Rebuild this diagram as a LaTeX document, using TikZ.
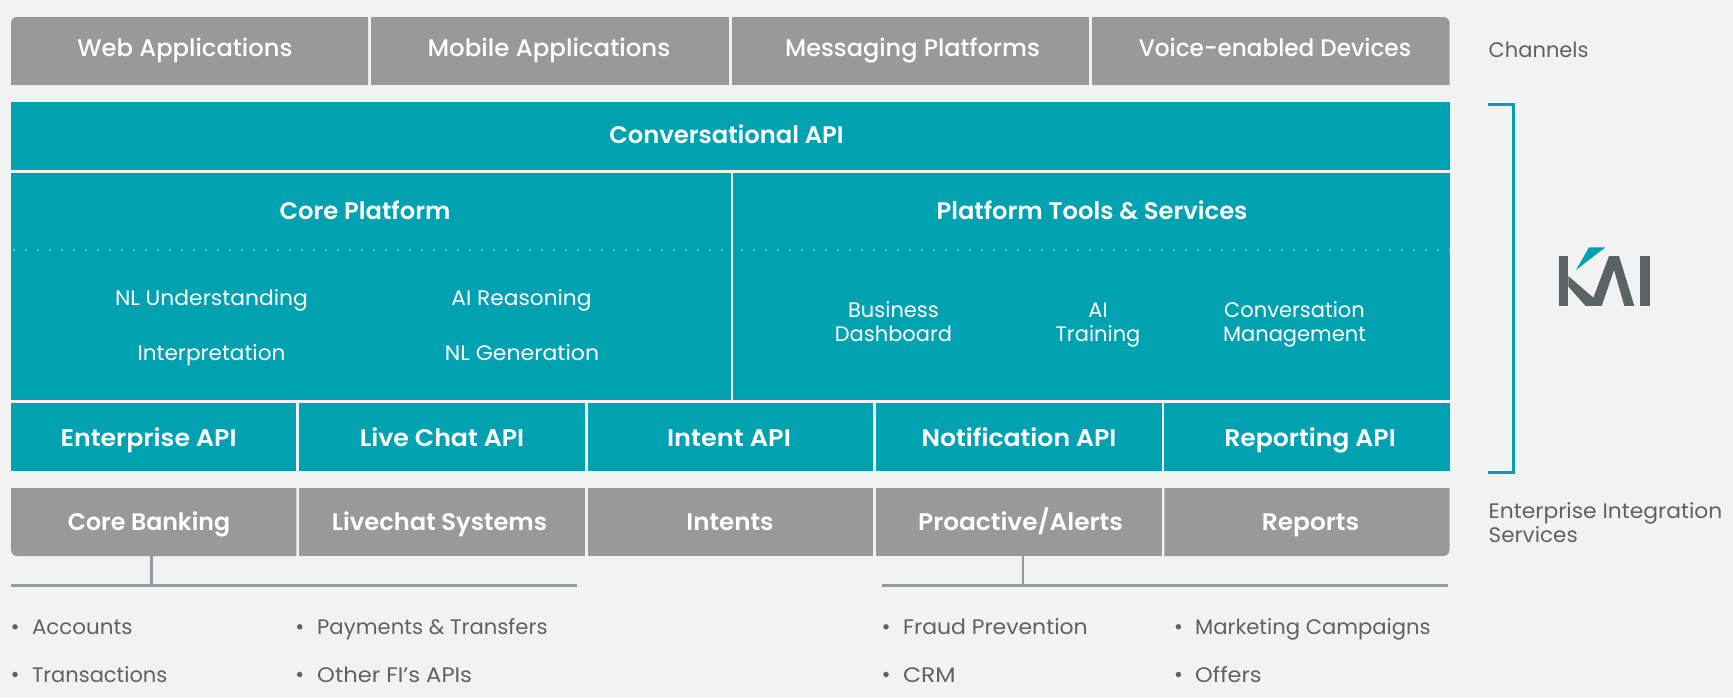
\documentclass[tikz,border=0pt]{standalone}
\usepackage{graphicx}
\usepackage{fontspec}
\setmainfont{Poppins}
\newfontfamily\semi{Poppins SemiBold}
\newfontfamily\medi{Poppins Medium}
\definecolor{bgc}{HTML}{F2F2F2}
\definecolor{tealc}{HTML}{00A2B2}
\definecolor{grayc}{HTML}{999999}
\definecolor{inkc}{HTML}{5C6366}
\definecolor{barc}{HTML}{919C9F}
\definecolor{dotc}{HTML}{5DC3CE}
\newcommand{\sx}[2]{\scalebox{#1}[1]{#2}}
\newcommand{\upstrut}{\rule{0pt}{16pt}}
\newcommand{\dnstrut}{\rule[-6pt]{0pt}{6pt}}
\tikzset{
  capbox/.style={inner sep=0pt,text height=#1,text depth=0pt},
  chan/.style={capbox=17pt,text=white,font=\medi\fontsize{24}{28}\selectfont},
  title/.style={capbox=17pt,text=white,font=\semi\fontsize{24}{28}\selectfont},
  item/.style={capbox=15pt,text=white,font=\fontsize{21}{24}\selectfont},
  twoline/.style={inner sep=0pt,text=white,align=center,font=\fontsize{21}{24}\selectfont},
  side/.style={capbox=15pt,anchor=west,text=inkc,font=\fontsize{21}{24}\selectfont},
  listitem/.style={capbox=15pt,anchor=west,text=inkc,font=\fontsize{21}{24}\selectfont},
  dotmark/.style={circle,fill=inkc,inner sep=0pt,minimum size=5.5pt},
  bar/.style={draw=barc,line width=3pt},
  stem/.style={draw=barc,line width=2.5pt},
  dotline/.style={draw=dotc,line width=2.4pt,dash pattern=on 2.4pt off 9.6pt},
}
\begin{document}
\begin{tikzpicture}[x=1pt,y=-1pt]
\useasboundingbox (0,0) rectangle (1733,697);
\fill[bgc] (0,0) rectangle (1733,697);
% channels
\fill[grayc] (11,85) [rounded corners=6pt] -- (11,17) [sharp corners] -- (368,17) -- (368,85) -- cycle;
\fill[grayc] (371,17) rectangle (729,85);
\fill[grayc] (732,17) rectangle (1089.3,85);
\fill[grayc] (1092,85) -- (1092,17) [rounded corners=6pt] -- (1449.5,17) [sharp corners] -- (1449.5,85) -- cycle;
\node[chan] (web) at (185,48) {\sx{1.01}{Web Applications}};
\node[chan] (mob) at (549,48) {\sx{1.02}{Mobile Applications}};
\node[chan] (msg) at (912.5,48) {Messaging Platforms};
\node[chan] (voi) at (1275,48) {\sx{0.965}{Voice-enabled Devices}};
% teal stack
\fill[tealc] (11,102) rectangle (1449.5,170);
\fill[tealc] (11,173) rectangle (730.5,400);
\fill[tealc] (733.3,173) rectangle (1449.5,400);
\foreach \a/\b in {11/296.3,299/584.7,587.5/873,875.8/1161.5,1164.3/1449.5}
  \fill[tealc] (\a,403) rectangle (\b,471);
\node[title] (conv) at (726.5,135) {\sx{1.01}{Conversational API}};
\node[title] (core) at (365,210.5) {\sx{1.01}{Core Platform}};
\node[title] (tools) at (1092,210.5) {\sx{1.01}{Platform Tools \& Services}};
\coordinate (dla) at (13,250);
\coordinate (dlb) at (728,250);
\coordinate (dra) at (740.5,250);
\coordinate (drb) at (1449,250);
\draw[dotline] (dla) -- (dlb);
\draw[dotline] (dra) -- (drb);
\node[item] (nlu) at (211.5,298) {\sx{1.04}{NL Understanding}};
\node[item] (air) at (521.5,298) {\sx{1.033}{AI Reasoning}};
\node[item] (int) at (211.5,352.7) {\sx{1.03}{Interpretation}};
\node[item] (nlg) at (522,352.7) {\sx{1.05}{NL Generation}};
\node[twoline] (biz) at (893.5,324.5) {\upstrut Business\\\dnstrut Dashboard};
\node[twoline] (trn) at (1098,324.5) {\upstrut AI\\\dnstrut Training};
\node[twoline] (cnv) at (1294.5,324.5) {\upstrut Conversation\\\dnstrut Management};
\node[title] (eapi) at (148.6,437.5) {\sx{1.053}{Enterprise API}};
\node[title] (lapi) at (442,437.5) {\sx{1.05}{Live Chat API}};
\node[title] (iapi) at (729,437.5) {\sx{1.067}{Intent API}};
\node[title] (napi) at (1019,437.5) {\sx{1.048}{Notification API}};
\node[title] (rapi) at (1310,437.5) {\sx{1.047}{Reporting API}};
% enterprise row
\fill[grayc] (296.3,488) -- (11,488) [rounded corners=6pt] -- (11,556) [sharp corners] -- (296.3,556) -- cycle;
\fill[grayc] (299,488) rectangle (584.7,556);
\fill[grayc] (587.5,488) rectangle (873,556);
\fill[grayc] (875.8,488) rectangle (1161.5,556);
\fill[grayc] (1164.3,488) -- (1449.5,488) [rounded corners=6pt] -- (1449.5,556) [sharp corners] -- (1164.3,556) -- cycle;
\node[title] (cbk) at (149,521.5) {\sx{0.987}{Core Banking}};
\node[title] (lcs) at (439.5,521.5) {\sx{1.01}{Livechat Systems}};
\node[title] (ints) at (730,521.5) {\sx{1.025}{Intents}};
\node[title] (pro) at (1020.5,521.5) {\sx{1.034}{Proactive/Alerts}};
\node[title] (rep) at (1310.5,521.5) {\sx{1.035}{Reports}};
% connectors
\coordinate (la) at (11,585.7);
\coordinate (lb) at (576.5,585.7);
\coordinate (lt) at (151.4,556);
\coordinate (lm) at (151.4,585.7);
\coordinate (ra) at (881.8,585.7);
\coordinate (rb) at (1448,585.7);
\coordinate (rt) at (1023,556);
\coordinate (rm) at (1023,585.7);
\draw[stem] (lt) -- (lm);
\draw[stem] (rt) -- (rm);
\draw[bar] (la) -- (lb);
\draw[bar] (ra) -- (rb);
% lists
\foreach \nm/\bx/\tx/\yy/\fc/\txt in {
  a/15/31.8/626.8/1.02/Accounts,
  b/15/31.8/674.5/1/Transactions,
  c/299.7/317/626.8/1.01/Payments \& Transfers,
  d/299.7/317/674.5/1.08/Other FI’s APIs,
  e/886/902.8/626.8/1.045/Fraud Prevention,
  f/886/902.8/674.5/1.12/CRM,
  g/1178.4/1195/626.8/1.005/Marketing Campaigns,
  h/1178.4/1195/674.5/1.07/Offers}{
  \node[dotmark] (dot\nm) at (\bx,\yy) {};
  \node[listitem] (li\nm) at (\tx,\yy) {\sx{\fc}{\txt}};
}
% side
\node[side] (chs) at (1488.5,50) {Channels};
\node[twoline,anchor=west,text=inkc,align=left] (eis) at (1488.5,525) {\upstrut\sx{1.04}{Enterprise Integration}\\\dnstrut\sx{1.025}{Services}};
\coordinate (bka) at (1488,104.5);
\coordinate (bkb) at (1513.5,104.5);
\coordinate (bkc) at (1513.5,472.5);
\coordinate (bkd) at (1488,472.5);
\draw[tealc,line width=3pt] (bka) -- (bkb) -- (bkc) -- (bkd);
% logo
\begin{scope}[shift={(1545,235)},x=0.3333pt,y=-0.3333pt]
\fill[tealc] (132,37) -- (181,37) -- (93,105) -- cycle;
\fill[inkc] (42,63) rectangle (70,213);
\fill[inkc] (70,123) -- (145,188) -- (192,63) -- (222,63) -- (268,213) -- (238,213) -- (207,105) -- (170,213) -- (122,213) -- (70,155) -- cycle;
\fill[inkc] (284,63) rectangle (314,213);
\end{scope}
\end{tikzpicture}
\end{document}
